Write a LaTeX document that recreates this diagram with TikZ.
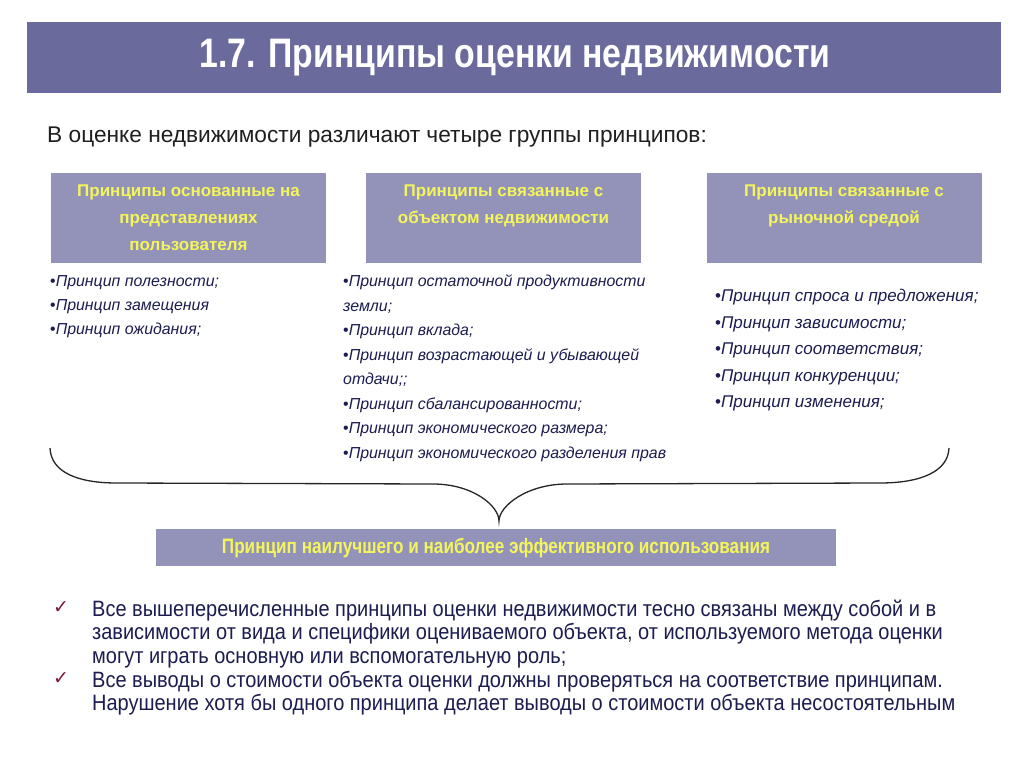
\documentclass[tikz,border=0pt]{standalone}
\usepackage{fontspec}
\setmainfont{Liberation Sans}
\newfontfamily\narrowfont{Liberation Sans}[FakeStretch=0.82]
\newfontfamily\notefont{Liberation Sans}[FakeStretch=0.9]
\newfontfamily\symfont{DejaVu Sans}
\usetikzlibrary{positioning}

\definecolor{barfill}{HTML}{6A6A9C}
\definecolor{boxfill}{HTML}{9393B9}
\definecolor{boxtext}{HTML}{F4F45C}
\definecolor{navytext}{HTML}{1C1C50}
\definecolor{checkred}{HTML}{7A1838}

\tikzset{
    titlebar/.style={fill=barfill,draw=none,minimum width=974pt,minimum height=71pt,inner sep=0pt},
    grpbox/.style={fill=boxfill,draw=none,minimum width=275pt,minimum height=90pt,align=center,
        text=boxtext,font=\fontsize{17}{27}\selectfont\bfseries,inner sep=0pt},
    listtext/.style={anchor=north west,align=left,inner sep=0pt,text=navytext},
    notetext/.style={anchor=north west,align=left,inner sep=0pt,text=navytext,
        font=\notefont\fontsize{22.2}{23.3}\selectfont},
    checkmark/.style={text=checkred,font=\symfont\fontsize{19}{19}\selectfont,inner sep=0pt}
}

\begin{document}
\begin{tikzpicture}[x=1pt,y=-1pt]
    \useasboundingbox[fill=white] (0,0) rectangle (1024,767);

    % heading
    \node[titlebar] (title) at (514,57.5) {};
    \node[text=white,font=\narrowfont\fontsize{41.2}{41.2}\selectfont\bfseries] (titletext) at (515,58) {1.7. Принципы оценки недвижимости};
    \node[anchor=west,text=black!88,font=\fontsize{22.7}{22.7}\selectfont,inner sep=0pt] (intro) at (47,137) {В оценке недвижимости различают четыре группы принципов:};

    % the three groups
    \node[grpbox] (grpA) at (188.5,218) {Принципы основанные на\\представлениях\\пользователя};
    \node[grpbox] (grpB) at (503.5,218) {Принципы связанные с\\объектом недвижимости\\~};
    \node[grpbox] (grpC) at (844,218) {Принципы связанные с\\рыночной средой\\~};

    \node[listtext,font=\fontsize{15.9}{24.3}\selectfont] (listA) at (50,275) {•\textit{Принцип полезности;}\\•\textit{Принцип замещения}\\•\textit{Принцип ожидания;}};
    \node[listtext,font=\fontsize{15.9}{24.5}\selectfont] (listB) at (343,275) {•\textit{Принцип остаточной продуктивности}\\\textit{земли;}\\•\textit{Принцип вклада;}\\•\textit{Принцип возрастающей и убывающей}\\\textit{отдачи;;}\\•\textit{Принцип сбалансированности;}\\•\textit{Принцип экономического размера;}\\•\textit{Принцип экономического разделения прав}};
    \node[listtext,font=\fontsize{17}{26.5}\selectfont] (listC) at (715,289) {•\textit{Принцип спроса и предложения;}\\•\textit{Принцип зависимости;}\\•\textit{Принцип соответствия;}\\•\textit{Принцип конкуренции;}\\•\textit{Принцип изменения;}};

    % brace
    \coordinate (braceL) at (50,448);
    \coordinate (braceR) at (949,448);
    \coordinate (braceTip) at (499,521);
    \draw[line width=1.3pt,black!85] (braceL) .. controls +(1,24) and +(-40,0) .. ++(67,35) -- (433,484)
        .. controls +(40,0) and +(0,-15) .. (braceTip)
        .. controls +(0,-15) and +(-40,0) .. (567,484) -- (880,483)
        .. controls +(40,0) and +(-1,24) .. (braceR);

    \node[fill=boxfill,minimum width=680pt,minimum height=37pt,inner sep=0pt,text=boxtext,
        font=\narrowfont\fontsize{20.9}{20.9}\selectfont\bfseries] (best) at (496,547.5) {Принцип наилучшего и наиболее эффективного использования};

    % conclusions
    \node[checkmark] (chk1) at (61,608) {✓};
    \node[checkmark] (chk2) at (61,679) {✓};
    \node[notetext] (note1) at (92,600) {Все вышеперечисленные принципы оценки недвижимости тесно связаны между собой и в\\зависимости от вида и специфики оцениваемого объекта, от используемого метода оценки\\могут играть основную или вспомогательную роль;};
    \node[notetext] (note2) at (92,671) {Все выводы о стоимости объекта оценки должны проверяться на соответствие принципам.\\Нарушение хотя бы одного принципа делает выводы о стоимости объекта несостоятельным};
\end{tikzpicture}
\end{document}
